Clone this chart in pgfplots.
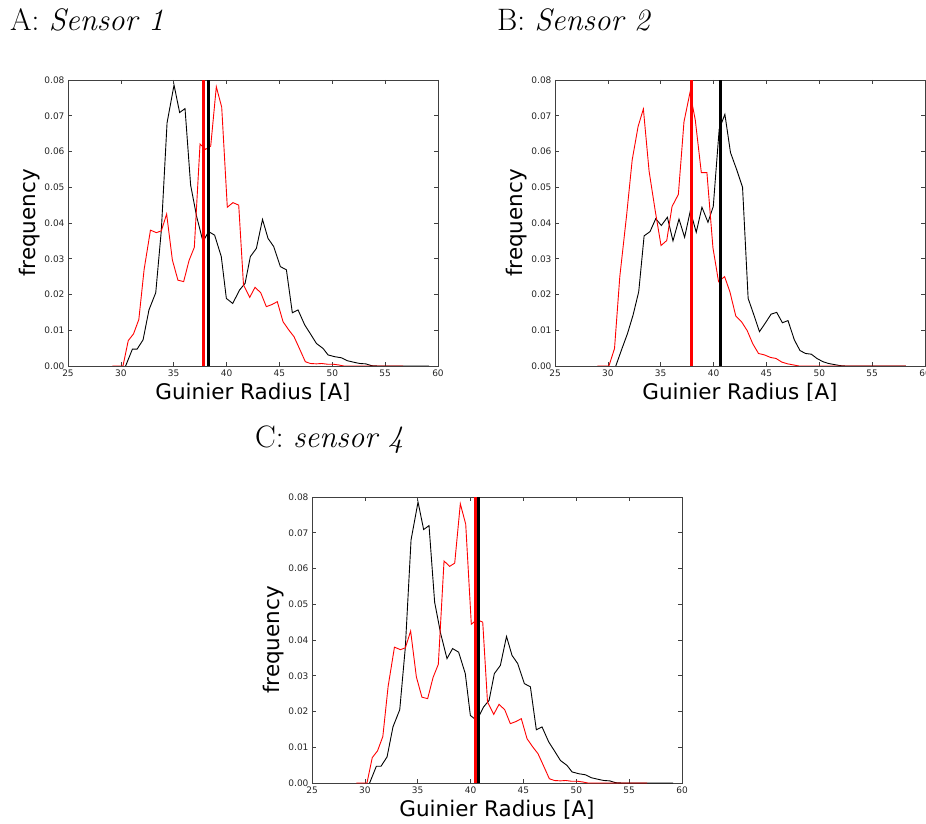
\documentclass[border=0pt]{standalone}
\usepackage{fontspec}
\usepackage{pgfplots}
\pgfplotsset{compat=1.18}
\usepackage{pgfplotstable}
\newfontfamily\dejavu{DejaVu Sans}

\pgfplotstableread{
x y
30.45 0
31.09 0.0047
31.53 0.0047
32.10 0.0073
32.66 0.0157
33.30 0.0205
33.83 0.0380
34.37 0.0680
35.03 0.0786
35.56 0.0709
36.07 0.0720
36.60 0.0506
37.17 0.0418
37.77 0.0348
38.30 0.0376
38.87 0.0366
39.50 0.0306
39.98 0.0189
40.58 0.0175
41.24 0.0213
41.75 0.0231
42.25 0.0306
42.82 0.0329
43.40 0.0410
43.92 0.0357
44.46 0.0334
45.09 0.0278
45.66 0.0269
46.22 0.0149
46.76 0.0157
47.39 0.0115
47.93 0.0090
48.50 0.0063
49.13 0.0049
49.60 0.0031
50.23 0.0026
50.86 0.0023
51.40 0.0015
51.96 0.0011
52.60 0.0007
53.16 0.0006
53.70 0.0001
54.30 0
59.15 0
}\blackA

\pgfplotstableread{
x y
29.20 0
30.20 0
30.70 0.0071
31.20 0.0090
31.70 0.0130
32.20 0.0270
32.80 0.0380
33.36 0.0373
33.83 0.0378
34.33 0.0425
34.87 0.0297
35.40 0.0240
35.94 0.0236
36.45 0.0295
36.95 0.0332
37.49 0.0621
38.02 0.0606
38.50 0.0615
39.03 0.0781
39.54 0.0724
40.07 0.0444
40.60 0.0457
41.15 0.0450
41.60 0.0227
42.19 0.0192
42.69 0.0220
43.23 0.0205
43.76 0.0166
44.30 0.0172
44.80 0.0180
45.34 0.0124
45.88 0.0101
46.38 0.0082
46.92 0.0047
47.45 0.0012
47.93 0.0007
48.50 0.0006
49.00 0.0007
49.53 0.0005
50.07 0.0005
50.58 0.0003
51.10 0
56.70 0
}\redA

\pgfplotstableread{
x y
30.75 0
31.29 0.0045
31.86 0.0091
32.39 0.0143
32.92 0.0208
33.43 0.0364
33.99 0.0376
34.53 0.0412
35.06 0.0393
35.63 0.0416
36.16 0.0350
36.73 0.0411
37.26 0.0360
37.80 0.0434
38.36 0.0374
38.90 0.0444
39.47 0.0402
39.97 0.0446
40.53 0.0662
41.07 0.0704
41.60 0.0597
42.20 0.0548
42.74 0.0500
43.27 0.0189
43.81 0.0143
44.34 0.0096
44.87 0.0119
45.44 0.0145
45.97 0.0150
46.51 0.0121
47.04 0.0127
47.64 0.0073
48.18 0.0043
48.71 0.0035
49.25 0.0033
49.78 0.0021
50.35 0.0012
50.88 0.0007
51.42 0.0004
51.98 0.0001
52.50 0
58.20 0
}\blackB

\pgfplotstableread{
x y
29.00 0
30.10 0
30.63 0.0049
31.13 0.0250
31.76 0.0418
32.30 0.0576
32.86 0.0670
33.36 0.0719
33.90 0.0545
34.47 0.0436
35.03 0.0337
35.57 0.0351
36.07 0.0446
36.67 0.0480
37.20 0.0683
37.77 0.0765
38.27 0.0688
38.84 0.0541
39.37 0.0541
39.94 0.0331
40.47 0.0236
41.04 0.0250
41.54 0.0208
42.10 0.0140
42.64 0.0124
43.18 0.0099
43.71 0.0062
44.25 0.0035
44.81 0.0031
45.38 0.0024
45.91 0.0021
46.45 0.0011
47.01 0.0006
47.55 0.0003
48.08 0
58.20 0
}\redB

\pgfplotsset{panel/.style={
  scale only axis, width=370pt, height=286pt, anchor=north west,
  xmin=25, xmax=60, ymin=0, ymax=0.08,
  xtick={25,30,...,60}, ytick={0,0.01,...,0.08},
  scaled y ticks=false,
  yticklabel style={/pgf/number format/.cd, fixed, fixed zerofill, precision=2},
  /pgf/number format/assume math mode=true,
  ticklabel style={font=\dejavu\fontsize{9}{10}\selectfont, text=black!85},
  xlabel={Guinier Radius [A]}, ylabel={frequency},
  every axis x label/.style={at={(axis description cs:0.5,-0.0944)}, anchor=center,
     font=\dejavu\fontsize{21.5}{24}\selectfont},
  every axis y label/.style={at={(axis description cs:-0.1027,0.5)}, rotate=90, anchor=center,
     font=\dejavu\fontsize{21.5}{24}\selectfont},
  axis line style={black!75, line width=0.8pt},
  tick style={black!75, line width=0.6pt},
  major tick length=4pt,
  tick align=inside,
  clip=true,
}}

\begin{document}
\begin{tikzpicture}
\path[use as bounding box, clip] (0,0) rectangle (926pt,823pt);

\node[anchor=base west, inner sep=0, font=\fontsize{31}{36}\selectfont] at (10pt,792pt) {A: \textit{Sensor 1}};
\node[anchor=base west, inner sep=0, font=\fontsize{31}{36}\selectfont] at (497pt,792pt) {B: \textit{Sensor 2}};
\node[anchor=base west, inner sep=0, font=\fontsize{31}{36}\selectfont] at (255pt,376pt) {C: \textit{sensor 4}};

\begin{scope}
\clip (0,422pt) rectangle (926pt,823pt);
\begin{axis}[panel, at={(68pt,743pt)}]
  \addplot[black, line width=0.9pt, no markers] table {\blackA};
  \addplot[red, line width=0.9pt, no markers] table {\redA};
  \addplot[red, line width=3pt, no markers] coordinates {(37.84,0) (37.84,0.08)};
  \addplot[black, line width=3pt, no markers] coordinates {(38.31,0) (38.31,0.08)};
\end{axis}
\begin{axis}[panel, at={(555pt,743pt)}]
  \addplot[black, line width=0.9pt, no markers] table {\blackB};
  \addplot[red, line width=0.9pt, no markers] table {\redB};
  \addplot[red, line width=3pt, no markers] coordinates {(37.9,0) (37.9,0.08)};
  \addplot[black, line width=3pt, no markers] coordinates {(40.69,0) (40.69,0.08)};
\end{axis}
\end{scope}

\begin{axis}[panel, at={(312pt,326pt)}]
  \addplot[black, line width=0.9pt, no markers] table {\blackA};
  \addplot[red, line width=0.9pt, no markers] table {\redA};
  \addplot[red, line width=3pt, no markers] coordinates {(40.42,0) (40.42,0.08)};
  \addplot[black, line width=3pt, no markers] coordinates {(40.75,0) (40.75,0.08)};
\end{axis}
\end{tikzpicture}
\end{document}
